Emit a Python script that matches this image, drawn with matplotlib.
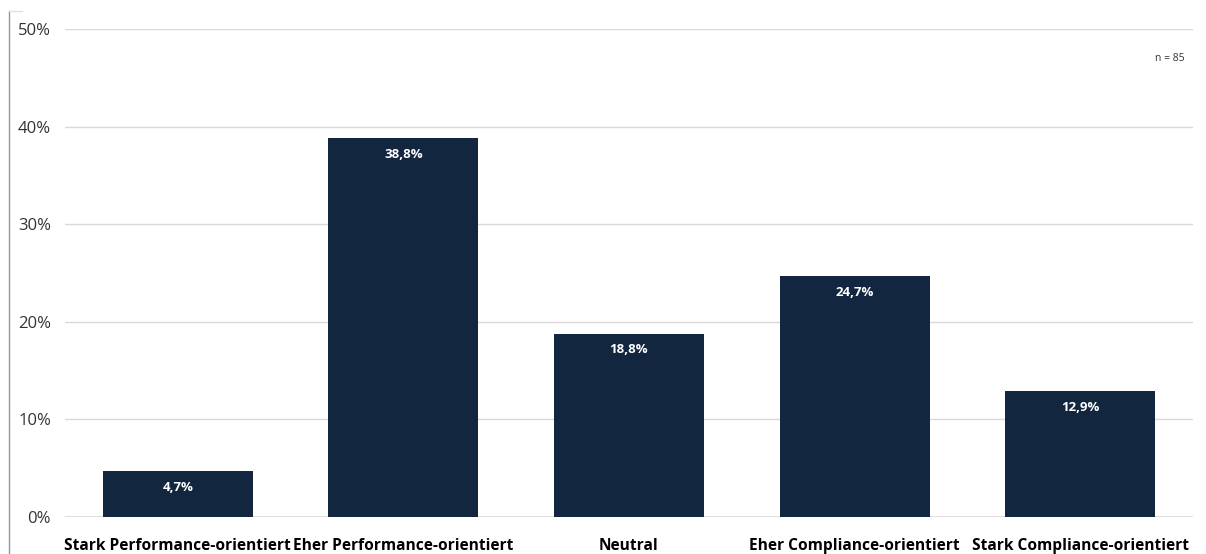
import matplotlib.pyplot as plt
from matplotlib.lines import Line2D

categories = ["Stark Performance-orientiert", "Eher Performance-orientiert",
              "Neutral", "Eher Compliance-orientiert", "Stark Compliance-orientiert"]
values = [4.7, 38.8, 18.8, 24.7, 12.9]
yticks = [0, 10, 20, 30, 40, 50]
n_text = "n = 85"

bar_color = "#13263f"
grid_color = "#d9d9d9"
text_color = "#333333"

plt.rcParams['font.family'] = ['Open Sans', 'DejaVu Sans']

W, H = 1206, 554
fig = plt.figure(figsize=(W / 100, H / 100), dpi=100)
ax = fig.add_axes([65 / W, 1 - 517 / H, (1193 - 65) / W, (517 - 29) / H])

x = range(len(categories))
bars = ax.bar(x, values, width=0.665, color=bar_color, zorder=3)
for b, v in zip(bars, values):
    ax.text(b.get_x() + b.get_width() / 2, v - 1.0, f"{v:.1f}%".replace(".", ","),
            ha="center", va="top", color="white", fontsize=9.5, fontweight="bold", zorder=4)

ax.set_xlim(-0.5, len(categories) - 0.5)
ax.set_ylim(0, 50)
ax.set_yticks(yticks)
ax.set_yticklabels([f"{t}%" for t in yticks], fontsize=12, color=text_color)
ax.set_xticks(list(x))
ax.set_xticklabels(categories, fontsize=11.2, fontweight="bold", color="black")
ax.tick_params(axis="both", length=0)
ax.tick_params(axis="y", pad=10)
ax.tick_params(axis="x", pad=15)
ax.yaxis.grid(True, color=grid_color, linewidth=1, zorder=0)
for s in ax.spines.values():
    s.set_visible(False)
ax.axhline(0, color=grid_color, linewidth=1.2, zorder=2)

ax.text(0.993, 0.94, n_text, transform=ax.transAxes, ha="right", va="center",
        fontsize=7.5, color=text_color)

# chart frame edge on the left
fig.add_artist(Line2D([8.5 / W, 8.5 / W], [0, 1 - 11 / H], color="#8f979f", lw=1))
fig.add_artist(Line2D([8.5 / W, 22 / W], [1 - 11 / H, 1 - 11 / H], color="#e0e0e0", lw=1))

fig.savefig("out.png", dpi=100)
